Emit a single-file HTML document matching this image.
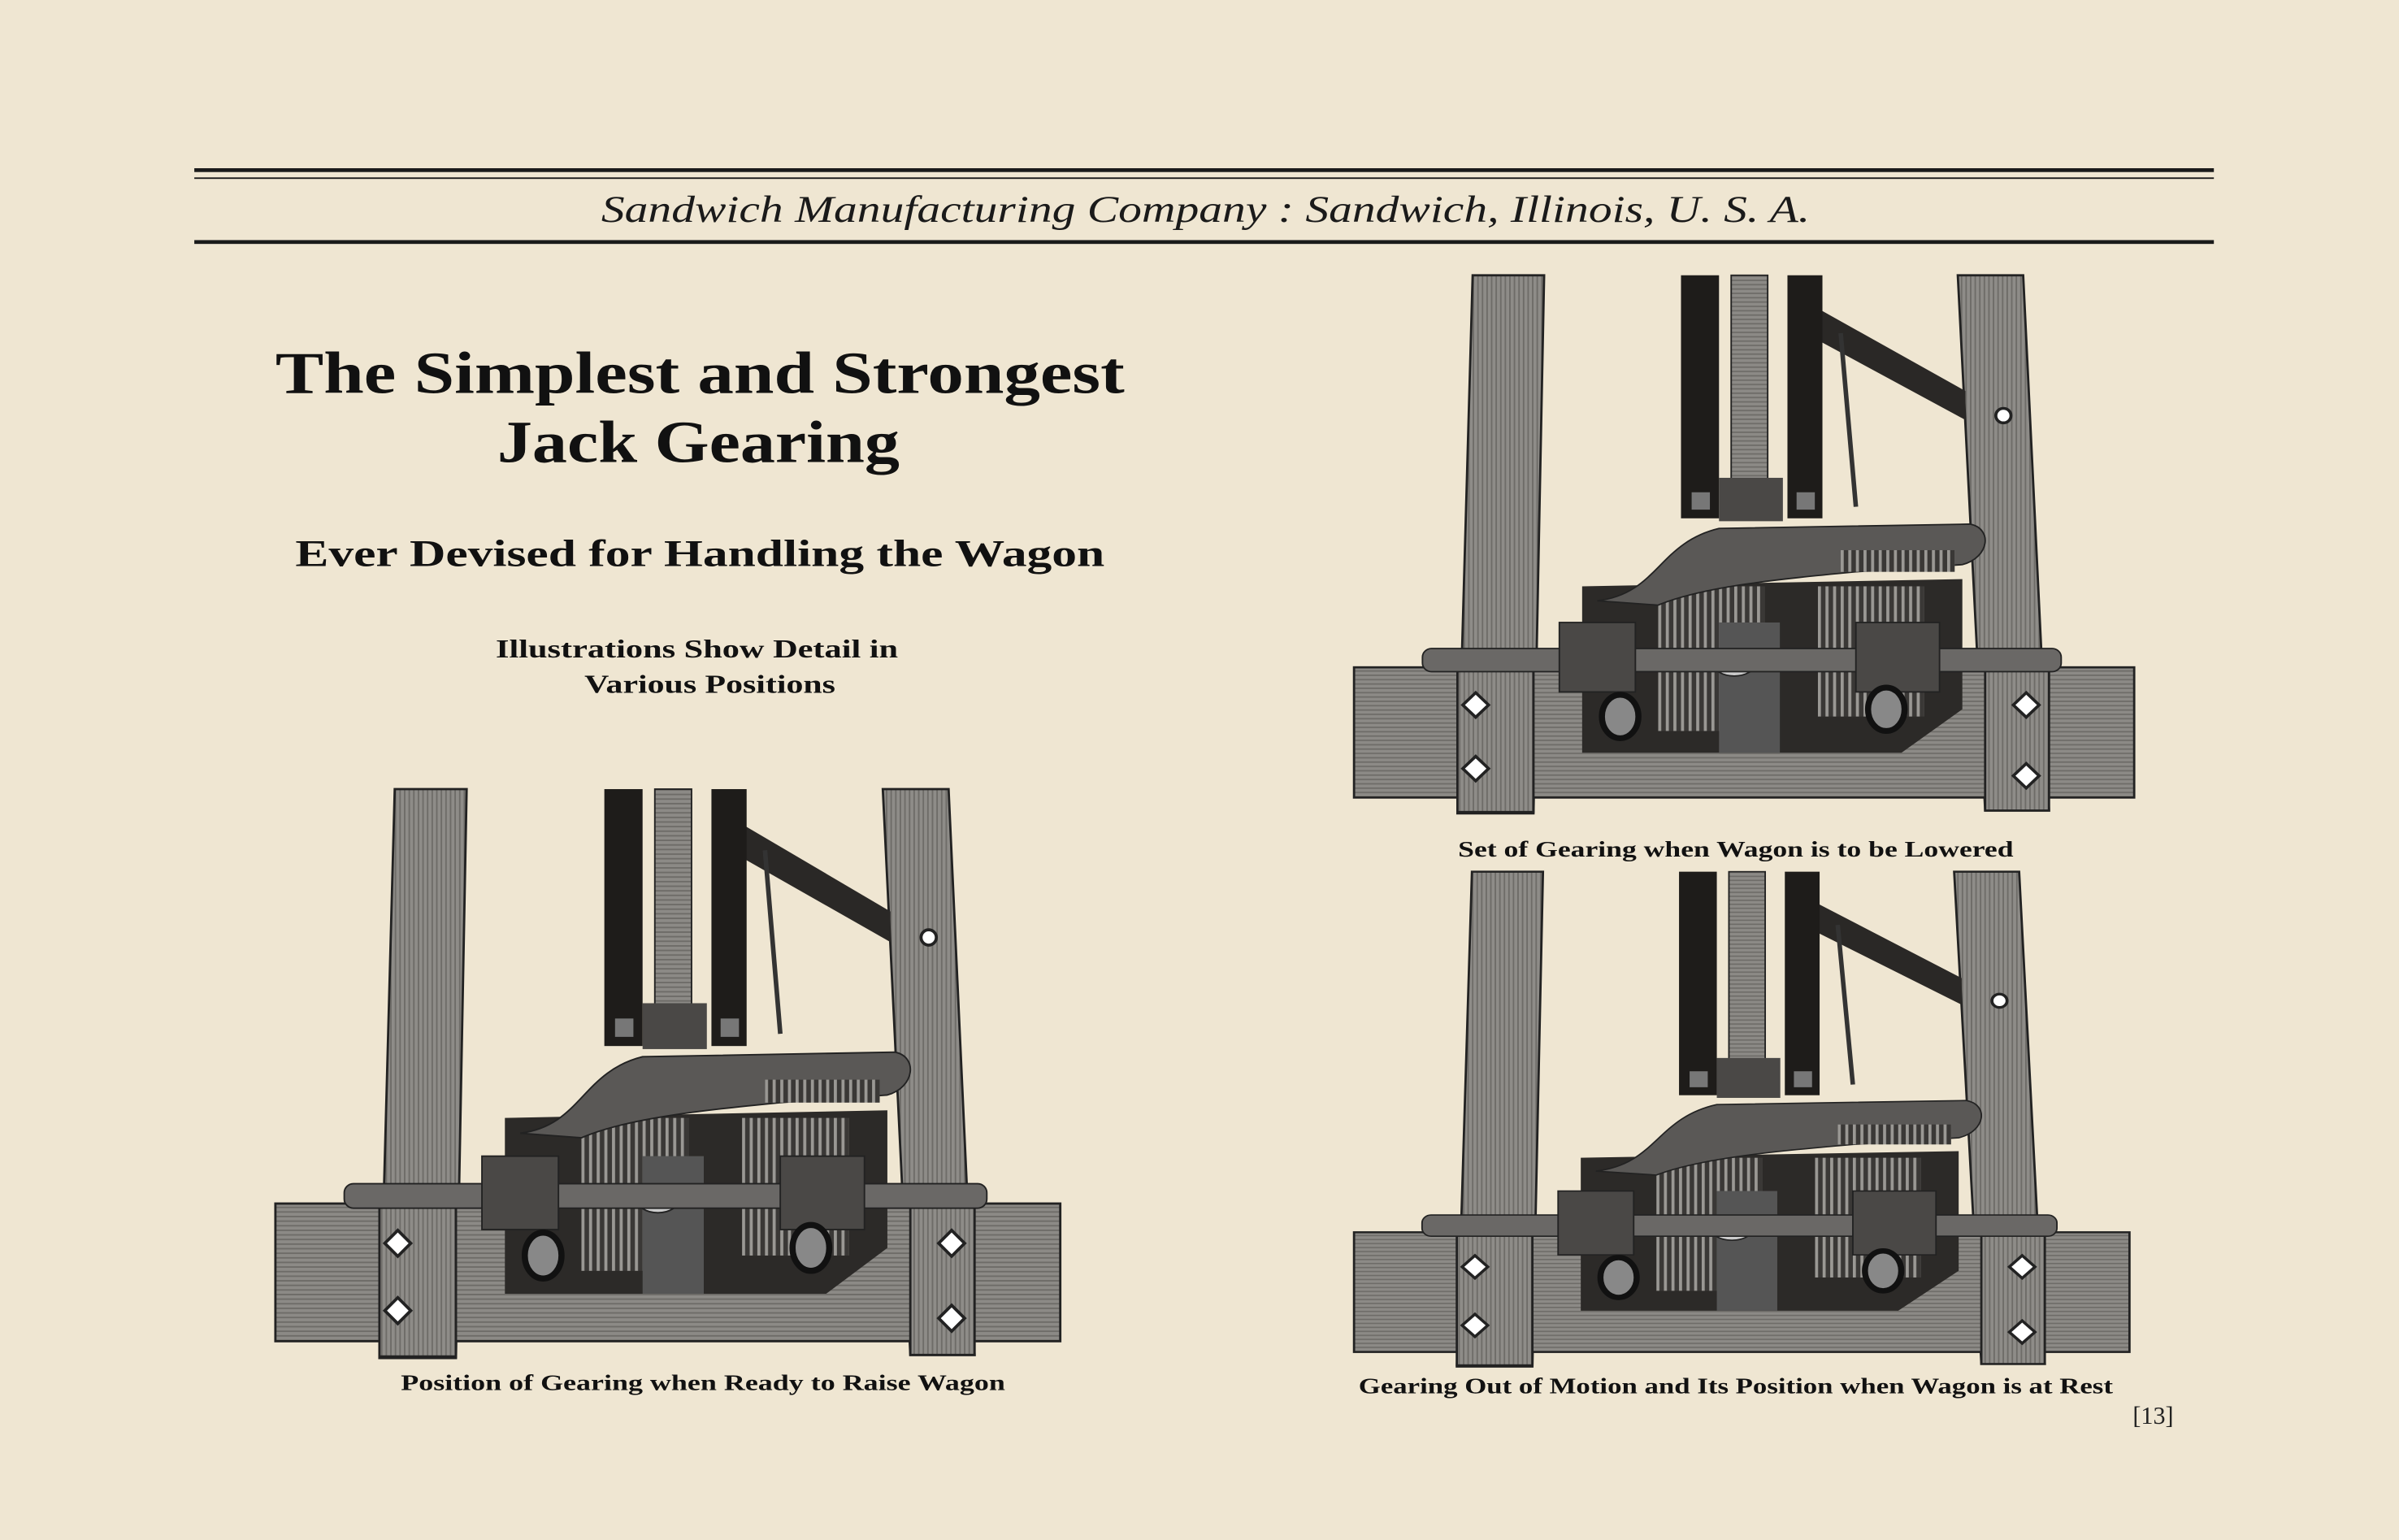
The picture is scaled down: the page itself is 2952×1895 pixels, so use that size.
<!DOCTYPE html>
<html><head><meta charset="utf-8"><style>
html,body{margin:0;padding:0;background:#efe6d2;}
svg{display:block;}
</style></head><body>
<svg width="2952" height="1895" viewBox="0 0 1568 1007" preserveAspectRatio="none" xmlns="http://www.w3.org/2000/svg">
<defs>
<pattern id="hl" width="4" height="3" patternUnits="userSpaceOnUse">
<rect width="4" height="3" fill="#8c8a86"/><rect width="4" height="1" fill="#6e6c68"/>
</pattern>
<pattern id="vl" width="3" height="4" patternUnits="userSpaceOnUse">
<rect width="3" height="4" fill="#8e8c88"/><rect width="1" height="4" fill="#6e6c68"/>
</pattern>
<pattern id="gear" width="5" height="5" patternUnits="userSpaceOnUse">
<rect width="5" height="5" fill="#3a3836"/><rect width="2" height="5" fill="#9a9894"/>
</pattern>
<g id="mech">
<polygon points="78,0 125,0 118,372 68,372" fill="url(#vl)" stroke="#222" stroke-width="1.5"/>
<polygon points="397,0 440,0 457,370 415,370" fill="url(#vl)" stroke="#222" stroke-width="1.5"/>
<polygon points="300,20 402,80 402,100 300,42" fill="#2a2826"/>
<rect x="215" y="0" width="25" height="168" fill="#1e1c1a"/>
<rect x="285" y="0" width="23" height="168" fill="#1e1c1a"/>
<rect x="222" y="150" width="12" height="12" fill="#777"/>
<rect x="291" y="150" width="12" height="12" fill="#777"/>
<rect x="248" y="0" width="24" height="145" fill="url(#hl)" stroke="#222"/>
<rect x="240" y="140" width="42" height="30" fill="#4a4846"/>
<line x1="320" y1="40" x2="330" y2="160" stroke="#333" stroke-width="3"/>
<circle cx="427" cy="97" r="5" fill="#fff" stroke="#222" stroke-width="2"/>
<rect x="0" y="271" width="513" height="90" fill="url(#hl)" stroke="#222" stroke-width="1.5"/>
<rect x="68" y="271" width="50" height="100" fill="url(#vl)" stroke="#222" stroke-width="1.5"/>
<rect x="415" y="271" width="42" height="99" fill="url(#vl)" stroke="#222" stroke-width="1.5"/>
<g fill="#fff" stroke="#222" stroke-width="2">
<rect x="74" y="291" width="12" height="12" transform="rotate(45 80 297)"/>
<rect x="74" y="335" width="12" height="12" transform="rotate(45 80 341)"/>
<rect x="436" y="291" width="12" height="12" transform="rotate(45 442 297)"/>
<rect x="436" y="340" width="12" height="12" transform="rotate(45 442 346)"/>
</g>
<path d="M150,215 L400,210 L400,300 L360,330 L150,330 Z" fill="#2c2a28"/>
<rect x="200" y="215" width="70" height="100" fill="url(#gear)"/>
<rect x="305" y="215" width="70" height="90" fill="url(#gear)"/>
<rect x="240" y="240" width="40" height="90" fill="#555"/>
<ellipse cx="250" cy="268" rx="14" ry="9" fill="#ccc" stroke="#222"/>
<path d="M160,225 C200,220 200,185 240,175 L405,172 C420,175 418,195 400,200 L330,205 C280,210 230,215 200,228 Z" fill="#5a5856" stroke="#222"/>
<rect x="320" y="190" width="75" height="15" fill="url(#gear)"/>
<rect x="45" y="258" width="420" height="16" rx="6" fill="#6a6866" stroke="#222"/>
<rect x="135" y="240" width="50" height="48" fill="#4a4846" stroke="#222"/>
<rect x="330" y="240" width="55" height="48" fill="#4a4846" stroke="#222"/>
<ellipse cx="175" cy="305" rx="12" ry="15" fill="#888" stroke="#111" stroke-width="4"/>
<ellipse cx="350" cy="300" rx="12" ry="15" fill="#888" stroke="#111" stroke-width="4"/>
</g>
</defs>
<rect width="1568" height="1007" fill="#efe6d2"/>
<rect x="127" y="110" width="1320" height="2.5" fill="#1a1a1a"/>
<rect x="127" y="116" width="1320" height="1" fill="#1a1a1a"/>
<rect x="127" y="157" width="1320" height="2.5" fill="#1a1a1a"/>
<text x="393" y="145" textLength="790" lengthAdjust="spacingAndGlyphs" font-family="Liberation Serif, serif" font-style="italic" font-size="25" fill="#1a1a1a">Sandwich Manufacturing Company : Sandwich, Illinois, U. S. A.</text>
<g font-family="Liberation Serif, serif" font-weight="bold" fill="#111" lengthAdjust="spacingAndGlyphs">
<text x="180" y="257" font-size="39" textLength="555" lengthAdjust="spacingAndGlyphs">The Simplest and Strongest</text>
<text x="325" y="302" font-size="39" textLength="263" lengthAdjust="spacingAndGlyphs">Jack Gearing</text>
<text x="193" y="370" font-size="25" textLength="529" lengthAdjust="spacingAndGlyphs">Ever Devised for Handling the Wagon</text>
<text x="324" y="430" font-size="17" textLength="263" lengthAdjust="spacingAndGlyphs">Illustrations Show Detail in</text>
<text x="382" y="453" font-size="17" textLength="164" lengthAdjust="spacingAndGlyphs">Various Positions</text>
<text x="953" y="560" font-size="14.5" textLength="363" lengthAdjust="spacingAndGlyphs">Set of Gearing when Wagon is to be Lowered</text>
<text x="262" y="909" font-size="14.5" textLength="395" lengthAdjust="spacingAndGlyphs">Position of Gearing when Ready to Raise Wagon</text>
<text x="888" y="911" font-size="14.5" textLength="493" lengthAdjust="spacingAndGlyphs">Gearing Out of Motion and Its Position when Wagon is at Rest</text>
</g>
<text x="1394" y="931" font-family="Liberation Serif, serif" font-size="16" fill="#222">[13]</text>
<use href="#mech" transform="translate(180,516)"/>
<use href="#mech" transform="translate(885,180) scale(0.994,0.946)"/>
<use href="#mech" transform="translate(885,570) scale(0.988,0.87)"/>
</svg>
</body></html>
